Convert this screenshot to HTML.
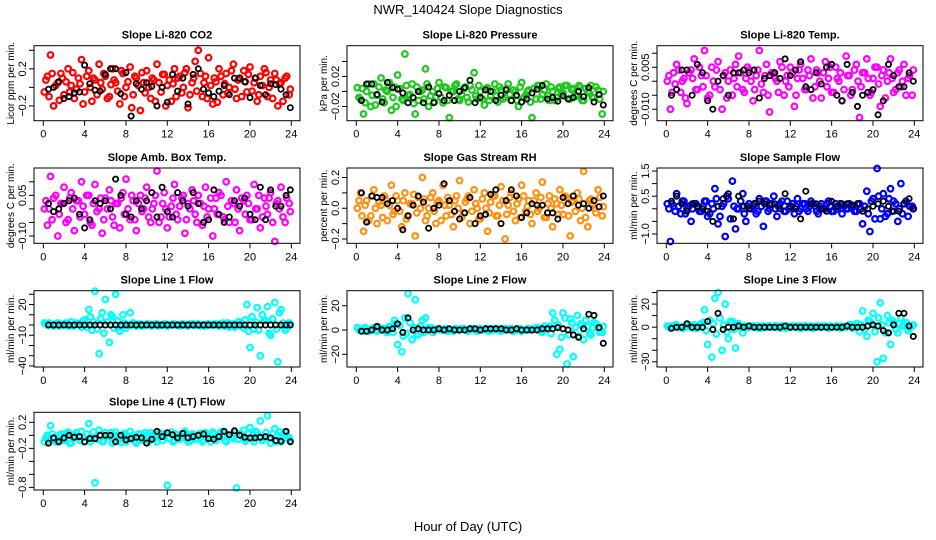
<!DOCTYPE html>
<html><head><meta charset="utf-8"><style>
body{margin:0;background:#fff;}
svg{display:block;font-family:"Liberation Sans",sans-serif;}
</style></head><body>
<svg id="chart" width="936" height="540" viewBox="0 0 936 540" xmlns="http://www.w3.org/2000/svg">
<text x="468" y="14" font-size="13" text-anchor="middle">NWR_140424  Slope Diagnostics</text>
<text x="468" y="531" font-size="13" text-anchor="middle">Hour of Day (UTC)</text>
<g id="panels"></g>
</svg>
<script>
const xTicks = [0,4,8,12,16,20,24];
const colorTimes = [0.1,0.4,0.7,1.0,1.4,1.7,2.0,2.4,2.7,3.0,3.4,3.7,4.0,4.4,4.7,5.0,5.4,5.7,6.0,6.4,6.7,7.0,7.4,7.7,8.0,8.4,8.7,9.0,9.4,9.7,10.0,10.4,10.7,11.0,11.4,11.7,12.0,12.4,12.7,13.0,13.4,13.7,14.0,14.4,14.7,15.0,15.4,15.7,16.0,16.4,16.7,17.0,17.4,17.7,18.0,18.4,18.7,19.0,19.4,19.7,20.0,20.4,20.7,21.0,21.4,21.7,22.0,22.4,22.7,23.0,23.4,23.8];
const colorTimes2 = [0.25,0.55,0.85,1.2,1.55,1.85,2.2,2.55,2.85,3.2,3.55,3.85,4.2,4.55,4.85,5.2,5.55,5.85,6.2,6.55,6.85,7.2,7.55,7.85,8.2,8.55,8.85,9.2,9.55,9.85,10.2,10.55,10.85,11.2,11.55,11.85,12.2,12.55,12.85,13.2,13.55,13.85,14.2,14.55,14.85,15.2,15.55,15.85,16.2,16.55,16.85,17.2,17.55,17.85,18.2,18.55,18.85,19.2,19.55,19.85,20.2,20.55,20.85,21.2,21.55,21.85,22.2,22.55,22.85,23.2,23.55,23.9];
const blackTimes = [0.5,1.0,1.5,2.0,2.5,3.0,3.5,4.0,4.5,5.0,5.5,6.0,6.5,7.0,7.5,8.0,8.5,9.0,9.5,10.0,10.5,11.0,11.5,12.0,12.5,13.0,13.5,14.0,14.5,15.0,15.5,16.0,16.5,17.0,17.5,18.0,18.5,19.0,19.5,20.0,20.5,21.0,21.5,22.0,22.5,23.0,23.5,23.9];

const co2Color = [-0.05,0.12,0.35,-0.2,0.05,0.15,-0.08,0.2,0.02,-0.12,0.1,0.3,-0.05,0.18,-0.15,0.08,0.25,-0.02,0.12,-0.1,0.2,0.05,-0.18,0.15,0.0,0.22,-0.08,0.1,-0.25,0.05,0.18,-0.12,0.08,0.25,-0.05,0.14,0.02,-0.15,0.2,0.1,-0.06,0.16,-0.22,0.05,0.28,0.4,-0.1,0.12,0.32,-0.18,0.06,0.2,-0.08,0.15,0.0,0.25,-0.12,0.1,0.18,-0.05,0.22,0.05,-0.15,0.12,0.2,-0.1,0.08,0.15,-0.2,0.05,0.1,-0.08];
const co2Color2 = [0.08,-0.1,0.15,0.02,-0.14,0.1,0.06,-0.05,0.16,-0.02,0.04,-0.18,0.12,0.0,0.1,-0.08,0.05,0.15,-0.12,0.03,0.08,-0.04,0.18,-0.1,0.06,-0.22,0.12,0.02,0.16,-0.06,0.0,0.1,-0.15,0.05,0.14,-0.2,0.08,0.04,-0.1,0.12,0.0,0.2,-0.08,0.1,-0.04,0.15,0.05,-0.12,0.02,0.1,-0.16,0.12,0.04,-0.06,0.18,-0.02,0.08,-0.1,0.06,0.14,-0.04,0.1,-0.08,0.02,0.16,0.0,-0.12,0.08,0.04,-0.15,0.12,-0.02];
const co2Black = [-0.02,0.0,0.06,-0.12,-0.1,-0.06,-0.05,0.24,0.04,-0.03,-0.04,0.14,0.2,0.2,-0.07,0.16,-0.31,0.04,-0.02,0.05,0.01,-0.2,0.0,-0.16,0.14,-0.04,0.1,-0.18,0.14,0.2,-0.02,-0.06,-0.1,-0.04,0.02,-0.08,0.1,0.1,0.06,-0.11,0.1,0.02,-0.08,0.04,0.03,-0.02,-0.08,-0.22];
const presColor = [0.005,-0.01,-0.03,0.0,-0.02,0.01,-0.005,0.018,-0.015,0.0,-0.025,0.006,0.022,-0.01,0.05,-0.005,0.01,-0.03,-0.012,0.002,0.03,-0.02,0.0,-0.008,0.012,-0.015,0.005,-0.035,0.0,0.01,-0.012,0.004,-0.008,0.008,0.025,-0.01,0.0,-0.018,0.005,-0.006,0.01,-0.014,0.002,-0.008,0.01,-0.012,0.0,-0.02,0.012,-0.005,0.002,-0.035,-0.01,0.008,-0.004,0.01,-0.012,0.0,-0.008,0.006,-0.002,0.008,-0.01,0.004,-0.006,0.006,-0.012,0.0,0.008,-0.008,0.002,-0.03];
const presColor2 = [-0.008,0.004,-0.015,0.01,-0.005,-0.018,0.006,-0.01,0.002,0.012,-0.008,-0.02,0.004,-0.012,0.008,-0.004,-0.016,0.006,0.0,-0.01,0.01,-0.006,-0.014,0.004,-0.008,0.006,-0.012,0.0,0.008,-0.01,-0.004,0.006,-0.014,0.002,-0.006,0.008,-0.01,0.004,-0.012,0.0,-0.006,0.006,-0.01,0.004,-0.004,0.002,-0.012,0.006,-0.008,0.0,-0.014,0.004,0.008,-0.01,0.002,-0.006,0.006,-0.012,0.004,-0.004,0.008,-0.01,0.002,-0.006,0.008,-0.012,0.004,-0.002,-0.008,0.006,-0.01,0.0];
const presBlack = [-0.012,0.01,0.01,-0.004,-0.014,0.012,0.005,0.003,-0.002,-0.015,-0.008,0.0,-0.015,0.006,-0.015,-0.003,-0.012,-0.005,-0.012,0.0,0.005,0.015,-0.015,-0.008,0.002,0.0,-0.012,-0.005,0.002,-0.012,-0.005,-0.014,-0.01,-0.002,0.003,0.008,-0.01,-0.008,-0.013,-0.006,-0.01,-0.008,0.0,-0.007,0.005,-0.014,-0.004,-0.018];
const tempColor = [0.0,-0.01,0.003,0.006,-0.004,0.001,-0.008,0.004,0.008,-0.003,0.002,0.011,-0.006,0.005,-0.002,0.007,-0.01,0.003,0.0,-0.005,0.006,0.009,-0.003,0.001,0.004,-0.007,0.002,0.011,-0.004,0.006,-0.011,0.003,0.0,0.007,-0.005,0.002,0.005,-0.009,0.001,0.006,-0.003,0.004,0.008,-0.002,0.003,-0.006,0.007,0.001,-0.004,0.005,0.0,-0.007,0.009,0.002,-0.003,0.006,-0.013,0.003,0.008,-0.005,0.001,0.005,-0.009,0.004,0.0,0.008,-0.004,0.003,-0.002,0.006,0.001,-0.005];
const tempColor2 = [0.002,-0.004,-0.001,0.004,0.0,-0.006,0.003,0.001,-0.003,0.005,-0.002,0.002,-0.005,0.0,0.004,-0.003,0.002,-0.006,0.004,0.001,-0.002,0.003,-0.004,0.005,0.0,-0.003,0.004,-0.001,0.002,-0.005,0.003,0.001,-0.004,0.005,0.0,-0.002,0.003,-0.005,0.004,0.001,-0.003,0.002,-0.006,0.004,0.0,0.003,-0.002,0.005,-0.004,0.001,0.003,-0.003,0.002,-0.005,0.004,0.0,-0.002,0.003,0.001,-0.004,0.005,-0.001,0.002,-0.006,0.003,0.001,-0.003,0.004,0.0,-0.005,0.002,0.004];
const tempBlack = [-0.005,-0.003,0.004,0.004,-0.005,0.006,0.003,-0.007,-0.01,0.0,0.002,-0.005,0.003,0.003,0.004,0.003,0.004,-0.006,0.001,0.002,0.003,0.001,0.008,0.002,0.004,0.007,-0.002,-0.003,0.003,-0.001,0.005,0.006,-0.005,-0.007,0.006,-0.004,-0.009,-0.005,-0.004,-0.003,-0.012,-0.007,0.006,0.002,-0.002,-0.002,0.003,0.0];
const ambColor = [0.0,-0.06,0.12,0.04,-0.1,0.02,0.08,-0.04,0.06,-0.08,0.03,0.1,-0.02,0.05,-0.06,0.09,0.0,-0.09,0.04,0.07,-0.03,0.02,-0.07,0.06,0.11,-0.04,0.03,-0.08,0.05,0.0,0.08,-0.05,0.02,0.14,-0.03,0.06,-0.07,0.01,0.09,-0.04,0.04,-0.09,0.02,0.07,-0.02,0.05,-0.06,0.08,0.0,-0.1,0.04,0.06,-0.03,0.1,-0.05,0.02,0.07,-0.08,0.03,0.05,-0.04,0.09,0.0,-0.07,0.04,-0.02,0.06,-0.12,0.03,0.08,-0.05,0.02];
const ambColor2 = [0.03,0.0,-0.04,0.05,-0.02,0.02,-0.05,0.04,0.0,0.03,-0.03,0.01,0.05,-0.05,0.02,-0.01,0.04,-0.04,0.0,0.03,-0.06,0.02,0.04,-0.02,0.0,0.05,-0.04,0.02,-0.01,0.04,-0.03,0.0,0.05,-0.05,0.02,0.0,-0.03,0.04,-0.02,0.01,0.05,-0.04,0.0,0.03,-0.05,0.02,0.01,-0.03,0.04,0.0,-0.02,0.05,-0.04,0.01,0.03,-0.05,0.0,0.04,-0.02,0.02,-0.04,0.0,0.05,-0.03,0.01,0.04,-0.05,0.02,0.0,-0.03,0.04,-0.01];
const ambBlack = [0.02,-0.01,0.0,0.02,0.03,0.04,-0.02,-0.07,-0.04,0.03,0.02,0.03,0.0,0.11,0.05,-0.02,-0.03,0.03,0.0,0.03,0.06,-0.03,0.08,-0.01,-0.03,0.06,0.03,0.01,0.06,0.02,-0.05,-0.04,0.07,-0.02,-0.05,-0.03,0.03,0.01,0.04,-0.02,-0.04,0.08,-0.04,0.07,0.01,0.01,0.05,0.07];
const rhColor = [0.0,0.1,-0.15,0.05,-0.05,0.12,-0.1,0.02,0.08,-0.08,0.15,-0.02,0.05,-0.12,0.1,-0.05,0.03,-0.18,0.07,0.2,-0.08,0.0,0.1,-0.1,0.05,0.15,-0.05,0.02,-0.12,0.08,0.18,-0.03,0.06,-0.1,0.12,0.0,-0.07,0.1,-0.15,0.04,0.08,-0.05,0.14,-0.2,0.02,0.1,-0.08,0.06,0.15,-0.02,0.05,-0.1,0.1,0.0,0.17,-0.06,0.08,-0.12,0.03,0.12,-0.04,0.07,-0.18,0.05,0.1,-0.08,0.24,-0.12,0.06,0.0,0.12,-0.05];
const rhColor2 = [0.05,-0.05,0.02,-0.08,0.08,0.0,0.04,-0.06,0.06,0.02,-0.04,0.08,-0.02,0.05,-0.07,0.03,0.09,-0.03,0.0,0.06,-0.05,0.07,-0.02,0.04,-0.08,0.02,0.07,-0.04,0.05,0.0,-0.06,0.04,0.08,-0.02,0.03,-0.07,0.06,0.0,-0.03,0.08,-0.05,0.02,0.05,-0.04,0.07,-0.02,0.03,-0.06,0.08,0.01,-0.04,0.05,-0.02,0.07,-0.06,0.03,0.0,0.06,-0.04,0.02,0.08,-0.05,0.04,-0.02,0.06,0.0,-0.06,0.05,0.02,-0.03,0.07,0.01];
const rhBlack = [0.1,-0.09,0.08,0.07,0.07,0.03,0.05,0.0,-0.14,-0.05,0.02,0.08,0.04,-0.13,0.0,0.02,0.16,0.05,-0.02,-0.07,-0.03,0.07,-0.1,-0.05,-0.04,0.09,0.12,-0.1,0.05,0.12,0.08,-0.06,-0.03,0.03,0.02,0.02,-0.03,-0.03,-0.07,0.07,0.03,0.08,0.02,0.03,0.0,0.05,0.01,0.08];
const flowColor = [0.2,-1.3,0.1,0.6,-0.2,0.3,0.0,-0.5,0.2,0.1,-0.1,0.3,-0.3,0.2,0.8,-0.6,0.1,-1.1,0.4,1.1,-0.8,0.0,0.6,-0.5,0.2,0.1,-0.2,0.4,-0.7,0.3,0.0,0.5,-0.3,0.2,-0.1,0.3,0.1,-0.2,0.4,0.0,0.2,-0.1,0.3,0.1,-0.2,0.2,0.0,0.3,-0.1,0.2,0.1,-0.2,0.0,0.2,0.1,-0.1,0.2,-0.6,0.7,-0.9,0.4,1.6,-0.4,0.6,-0.2,0.8,0.3,-0.5,1.0,0.2,-0.3,0.1];
const flowColor2 = [0.0,0.2,-0.1,0.1,0.3,-0.2,0.1,0.0,0.2,-0.1,0.1,0.3,-0.2,0.0,0.4,-0.3,0.2,0.5,-0.4,0.1,0.0,0.3,-0.2,0.1,0.0,0.2,-0.1,0.1,0.3,-0.1,0.2,0.0,0.1,0.3,-0.1,0.0,0.2,0.1,-0.1,0.2,0.0,0.1,0.2,-0.1,0.1,0.0,0.2,0.1,-0.1,0.0,0.2,0.1,0.0,0.1,-0.1,0.2,0.0,0.1,-0.2,0.3,-0.4,0.5,0.0,-0.3,0.4,-0.1,0.2,0.0,-0.2,0.3,0.1,0.0];
const flowBlack = [0.3,0.5,0.2,-0.1,0.2,0.1,0.0,-0.1,-0.5,0.1,0.4,0.6,-0.4,0.5,0.1,0.0,0.2,0.3,0.2,0.15,0.2,0.0,0.6,0.1,0.0,-0.4,0.7,0.2,0.2,0.0,-0.1,0.3,0.1,0.2,0.2,0.15,0.2,-0.1,0.0,0.1,0.2,0.3,0.1,-0.1,-0.1,0.2,0.4,0.0];
const line1Color = [2,0,1,-1,2,0,1,-1,3,0,1,-2,5,15,-5,33,-28,12,25,-17,8,30,-6,10,-3,12,2,-1,1,0,1,-1,0,1,0,1,-1,0,1,0,1,0,-1,1,0,1,0,-1,1,0,1,-1,2,0,-2,1,0,3,-3,20,-22,-4,17,-30,5,18,-10,22,-36,15,-5,2];
const line1Color2 = [1,2,0,1,-1,0,2,0,-1,2,1,4,-2,8,3,-4,6,-8,3,10,-3,4,-2,2,0,1,0,1,-1,0,1,0,1,-1,0,1,0,1,0,-1,1,0,1,0,1,-1,0,1,0,1,0,1,-1,2,1,-2,3,0,5,-6,8,3,-5,10,4,-8,6,-4,12,2,-3,1];
const line1Black = [0,0,0,0,0,0,0,0,0,0,0,0,0,0,0,0,0,0,0,0,0,0,0,0,0,0,0,0,0,0,0,0,0,0,0,0,0,0,0,0,0,0,0,0,0,0,0,0];
const line2Color = [2,0,-1,1,0,2,-1,0,1,-2,3,8,-12,-18,10,30,-8,25,-4,8,10,2,-2,0,1,0,1,0,-1,1,0,1,0,1,0,-1,1,0,1,0,1,0,-1,1,0,1,0,1,-1,0,1,0,2,0,-2,1,3,14,-20,-16,14,-28,9,-22,12,5,-8,3,-4,6,1,-2];
const line2Color2 = [0,1,2,-1,1,0,2,1,-1,3,-2,5,4,-5,-3,6,2,-4,3,-2,1,2,0,1,0,1,-1,0,1,0,1,0,-1,1,0,1,0,1,-1,0,1,0,1,0,1,-1,0,1,0,1,0,1,2,-1,3,2,-3,8,4,-6,10,-4,6,2,-5,4,8,-3,2,5,-2,3];
const line2Black = [-1,-1,0,3,0,0,1,5,-2,10,0,1,0,0,0,1,0,1,0,0,0,1,1,0,1,1,1,1,0,0,1,0,0,0,0,1,1,1,2,1,0,-4,-6,1,13,12,2,-11];
const line3Color = [1,-1,0,2,0,-1,1,0,2,-1,3,15,-15,-26,25,30,-20,20,-10,5,-18,3,-5,1,0,1,0,-1,1,0,1,0,1,-1,0,1,0,1,0,-1,1,0,1,0,1,0,1,-1,0,1,0,1,0,2,-1,3,-4,14,-8,5,12,-30,21,-27,10,-15,4,-5,8,2,-3,1];
const line3Color2 = [0,1,2,0,-1,1,2,-1,0,2,4,-3,6,3,-6,8,2,-4,5,-2,2,0,1,0,1,0,1,-1,0,1,0,1,0,1,-1,0,1,0,1,0,1,0,-1,1,0,1,0,1,0,1,-1,0,1,2,0,3,2,-2,6,3,-4,8,2,-5,4,6,-2,3,1,4,-1,2];
const line3Black = [-1,0,0,3,0,0,0,5,-2,12,-2,0,0,1,0,1,0,0,0,0,0,0,1,0,0,0,0,0,0,0,0,0,0,0,1,0,0,0,1,2,1,-3,-5,2,12,12,1,-8];
const line4Color = [-0.1,0.0,0.15,-0.05,-0.1,0.02,-0.08,0.05,-0.12,0.0,-0.03,0.06,-0.1,0.18,-0.05,-0.73,0.08,-0.1,0.04,-0.02,-0.12,0.05,-0.06,0.0,-0.1,0.06,-0.04,-0.12,0.02,-0.08,0.0,0.04,-0.06,-0.1,0.03,-0.02,-0.77,0.05,-0.08,0.0,-0.04,0.06,-0.1,0.02,-0.06,0.0,-0.1,0.04,-0.03,0.05,-0.08,-0.02,0.06,-0.1,0.0,-0.05,-0.81,0.02,0.08,-0.06,0.12,-0.1,0.04,0.22,-0.05,0.3,-0.12,0.1,0.0,-0.1,0.05,-0.04];
const line4Color2 = [-0.04,-0.08,0.02,-0.1,0.0,-0.06,0.03,-0.12,-0.02,0.04,-0.08,-0.03,0.02,-0.1,0.05,-0.06,0.0,-0.09,-0.02,0.04,-0.07,0.0,-0.11,0.03,-0.05,-0.01,-0.09,0.02,-0.06,0.04,-0.1,0.0,-0.04,0.03,-0.08,0.01,-0.05,-0.1,0.02,-0.06,0.04,-0.02,-0.09,0.01,-0.05,0.03,-0.07,0.0,-0.1,0.02,-0.04,0.05,-0.08,0.0,-0.03,0.04,-0.06,0.01,-0.09,0.03,-0.05,0.06,-0.02,-0.08,0.04,-0.03,0.02,-0.1,0.05,-0.06,0.0,-0.08];
const line4Black = [-0.12,-0.04,-0.1,-0.04,0.0,-0.03,-0.02,-0.1,-0.05,-0.05,0.0,0.0,0.0,-0.1,0.0,-0.07,-0.05,-0.03,-0.04,-0.12,-0.06,0.06,-0.02,0.04,0.01,-0.04,0.03,-0.04,-0.02,0.0,0.02,-0.05,-0.06,-0.02,0.06,0.01,0.07,0.0,-0.03,-0.04,-0.04,-0.03,-0.02,-0.04,-0.08,-0.09,0.06,-0.1];

const panels = [
 {id:'co2',title:'Slope Li-820 CO2',ylab:'Licor ppm per min.',color:'#ff0000',c:0,r:0,ymin:-0.36,ymax:0.45,ticks:[-0.2,0,0.2,0.4],labels:['−0.2','','0.2',''],col:co2Color,col2:co2Color2,blk:co2Black},
 {id:'pressure',title:'Slope Li-820 Pressure',ylab:'kPa per min.',color:'#1ec81e',c:1,r:0,ymin:-0.039,ymax:0.061,ticks:[-0.02,0,0.02,0.04],labels:['−0.02','','0.02',''],col:presColor,col2:presColor2,blk:presBlack},
 {id:'li820-temp',title:'Slope Li-820 Temp.',ylab:'degrees C per min.',color:'#ff00ff',c:2,r:0,ymin:-0.0141,ymax:0.0127,ticks:[-0.01,-0.005,0,0.005,0.01],labels:['−0.010','','','0.005',''],col:tempColor,col2:tempColor2,blk:tempBlack},
 {id:'amb-temp',title:'Slope Amb. Box Temp.',ylab:'degrees C per min.',color:'#ff00ff',c:0,r:1,ymin:-0.127,ymax:0.151,ticks:[-0.1,-0.05,0,0.05,0.1],labels:['−0.10','','','0.05',''],col:ambColor,col2:ambColor2,blk:ambBlack},
 {id:'gas-rh',title:'Slope Gas Stream RH',ylab:'percent per min.',color:'#ff9010',c:1,r:1,ymin:-0.228,ymax:0.262,ticks:[-0.2,-0.1,0,0.1,0.2],labels:['−0.2','','0.0','','0.2'],col:rhColor,col2:rhColor2,blk:rhBlack},
 {id:'sample-flow',title:'Slope Sample Flow',ylab:'ml/min per min.',color:'#0000ff',c:2,r:1,ymin:-1.37,ymax:1.62,ticks:[-1,-0.5,0,0.5,1,1.5],labels:['−1.0','','','0.5','','1.5'],col:flowColor,col2:flowColor2,blk:flowBlack},
 {id:'line1-flow',title:'Slope Line 1 Flow',ylab:'ml/min per min.',color:'#00ffff',c:0,r:2,ymin:-41,ymax:33.5,ticks:[-40,-30,-20,-10,0,10,20,30],labels:['−40','','','−10','','','20',''],col:line1Color,col2:line1Color2,blk:line1Black},
 {id:'line2-flow',title:'Slope Line 2 Flow',ylab:'ml/min per min.',color:'#00ffff',c:1,r:2,ymin:-30.5,ymax:32.4,ticks:[-20,0,20],labels:['−20','0','20'],col:line2Color,col2:line2Color2,blk:line2Black},
 {id:'line3-flow',title:'Slope Line 3 Flow',ylab:'ml/min per min.',color:'#00ffff',c:2,r:2,ymin:-34.5,ymax:31.6,ticks:[-30,-20,-10,0,10,20,30],labels:['−30','','','0','','20',''],col:line3Color,col2:line3Color2,blk:line3Black},
 {id:'line4-flow',title:'Slope Line 4 (LT) Flow',ylab:'ml/min per min.',color:'#00ffff',c:0,r:3,ymin:-0.84,ymax:0.354,ticks:[-0.8,-0.6,-0.4,-0.2,0,0.2],labels:['−0.8','','','−0.2','','0.2'],col:line4Color,col2:line4Color2,blk:line4Black}
];
const colLeft=[34,347,657], rowTop=[45.7,168,290.7,412.3], rowH=[75,75.3,76.3,77.7], W=266;
const NS='http://www.w3.org/2000/svg';
const root=document.getElementById('panels');
function mk(tag,attrs,parent){const e=document.createElementNS(NS,tag);for(const k in attrs)e.setAttribute(k,attrs[k]);parent.appendChild(e);return e;}
panels.forEach(p=>{
  const L=colLeft[p.c], T=rowTop[p.r], H=rowH[p.r], B=T+H;
  const xs=h=>L+9.3+h*(248/24);
  const ys=v=>B-(v-p.ymin)/(p.ymax-p.ymin)*H;
  const g=mk('g',{},root);
  
  
  const t=mk('text',{x:L+W/2,y:T-7,'font-size':11,'font-weight':'bold','text-anchor':'middle'},g);
  t.textContent=p.title;
  
  
  const cx=L-20, cy=T+H/2;
  const yl=mk('text',{x:cx,y:cy,'font-size':10,'text-anchor':'middle',transform:`rotate(-90 ${cx} ${cy})`},g);
  yl.textContent=p.ylab;
  
  
  const pts=mk('g',{fill:'none',stroke:p.color,'stroke-width':2.2},g);
  
  
  [[colorTimes,p.col],[colorTimes2,p.col2]].forEach(([tt,vv])=>{
    const n=Math.min(tt.length,vv.length);
    for(let i=0;i<n;i++){
      const c=mk('circle',{cx:xs(tt[i]).toFixed(1),cy:ys(vv[i]).toFixed(1),r:2.8},pts);
      
      
    }
  });
  const bp=mk('g',{fill:'none',stroke:'#000','stroke-width':1.8},g);
  
  
  const m=Math.min(blackTimes.length,p.blk.length);
  for(let i=0;i<m;i++){
    const c=mk('circle',{cx:xs(blackTimes[i]).toFixed(1),cy:ys(p.blk[i]).toFixed(1),r:2.6},bp);
    
    
  }
  const box=mk('rect',{x:L,y:T,width:W,height:H,fill:'none',stroke:'#000','stroke-width':1},g);
  
  
  const xa=mk('g',{stroke:'#000','stroke-width':1},g);
  
  
  xTicks.forEach(v=>{
    mk('line',{x1:xs(v),x2:xs(v),y1:B,y2:B+5},xa);
    const tx=mk('text',{x:xs(v),y:B+17,'font-size':11,'text-anchor':'middle',stroke:'none'},xa);
    tx.textContent=String(v);
    
    
  });
  const ya=mk('g',{stroke:'#000','stroke-width':1},g);
  
  
  p.ticks.forEach((v,i)=>{
    const y=ys(v);
    mk('line',{x1:L-5,x2:L,y1:y,y2:y},ya);
    if(p.labels[i]){
      const tx=mk('text',{x:L-8,y:y,'font-size':11,'text-anchor':'middle',stroke:'none',transform:`rotate(-90 ${L-8} ${y})`},ya);
      tx.textContent=p.labels[i];
      
      
    }
  });
});
</script>
</body></html>
